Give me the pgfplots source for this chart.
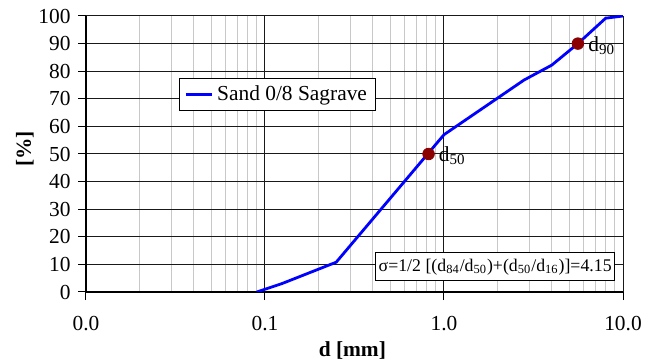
\documentclass[border=0pt]{standalone}
\usepackage{fontspec}
\setmainfont{Liberation Serif}
\usepackage{pgfplots}
\pgfplotsset{compat=1.18}
\definecolor{dred}{RGB}{139,0,0}
\definecolor{mgrid}{RGB}{200,200,200}
\begin{document}
\fontsize{10.7}{12.8}\selectfont\rmfamily
\begin{tikzpicture}
\begin{axis}[
  scale only axis, width=268.5pt, height=138pt,
  xmode=log, xmin=0.01, xmax=10, ymin=0, ymax=100,
  xtick={0.01,0.1,1,10}, xticklabels={0.0,0.1,1.0,10.0},
  minor xtick={0.02,0.03,0.04,0.05,0.06,0.07,0.08,0.09,0.2,0.3,0.4,0.5,0.6,0.7,0.8,0.9,2,3,4,5,6,7,8,9},
  ytick={0,10,...,100},
  /pgf/number format/assume math mode=true,
  xticklabel style={yshift=-4.5pt},
  axis lines=left, axis line style={-, line width=1pt},
  tick align=outside, major tick length=4pt, minor tick length=0pt,
  tick style={black, line width=0.5pt},
  grid=both,
  major grid style={black!90, line width=0.5pt},
  minor grid style={mgrid, line width=0.5pt},
  xlabel={\textbf{d [mm]}}, ylabel={\textbf{[\%]}},
  xlabel style={at={(axis description cs:0.496,0)}, anchor=center, yshift=-29.5pt},
  ylabel style={at={(axis description cs:0,0.518)}, anchor=center, yshift=30.5pt},
  legend style={at={(rel axis cs:0.173,0.775)}, anchor=north west, draw=black, fill=white, line width=0.5pt, inner xsep=2.5pt, inner ysep=1.5pt},
  legend image code/.code={\path (0pt,0pt) -- (3pt,0pt); \draw[#1] (3pt,0pt) -- (13pt,0pt);},
]
\coordinate (sw) at (rel axis cs:0,0);
\coordinate (ne) at (rel axis cs:1,1);
\addplot[blue, line width=1.4pt] coordinates {
  (0.09,0) (0.125,3.1) (0.25,10.8) (1.0,57) (2.8,76.8) (4.0,82.2) (5.6,90) (8.0,99.2) (10,100)
};
\addlegendentry{Sand 0/8 Sagrave}
\addplot[only marks, mark=*, mark size=2.9pt, color=dred, forget plot] coordinates {(0.82,50) (5.6,90)};
\node[anchor=west, xshift=4pt, yshift=-1pt, inner sep=1pt] at (axis cs:0.82,50) {d\textsubscript{50}};
\node[anchor=west, xshift=4pt, yshift=-1pt, inner sep=1pt] at (axis cs:5.6,90) {d\textsubscript{90}};
\node[draw=black, fill=white, line width=0.5pt, inner xsep=1.5pt, inner ysep=0pt, minimum height=14pt, anchor=center, font=\fontsize{8.9}{10.7}\selectfont] at (rel axis cs:0.762,0.0906) {σ=1/2 [(d\textsubscript{84}/d\textsubscript{50})+(d\textsubscript{50}/d\textsubscript{16})]=4.15};
\end{axis}
\pgfresetboundingbox
\path[use as bounding box] ([xshift=-43pt,yshift=-35.5pt]sw) rectangle ([xshift=19.5pt,yshift=8pt]ne);
\end{tikzpicture}
\end{document}
